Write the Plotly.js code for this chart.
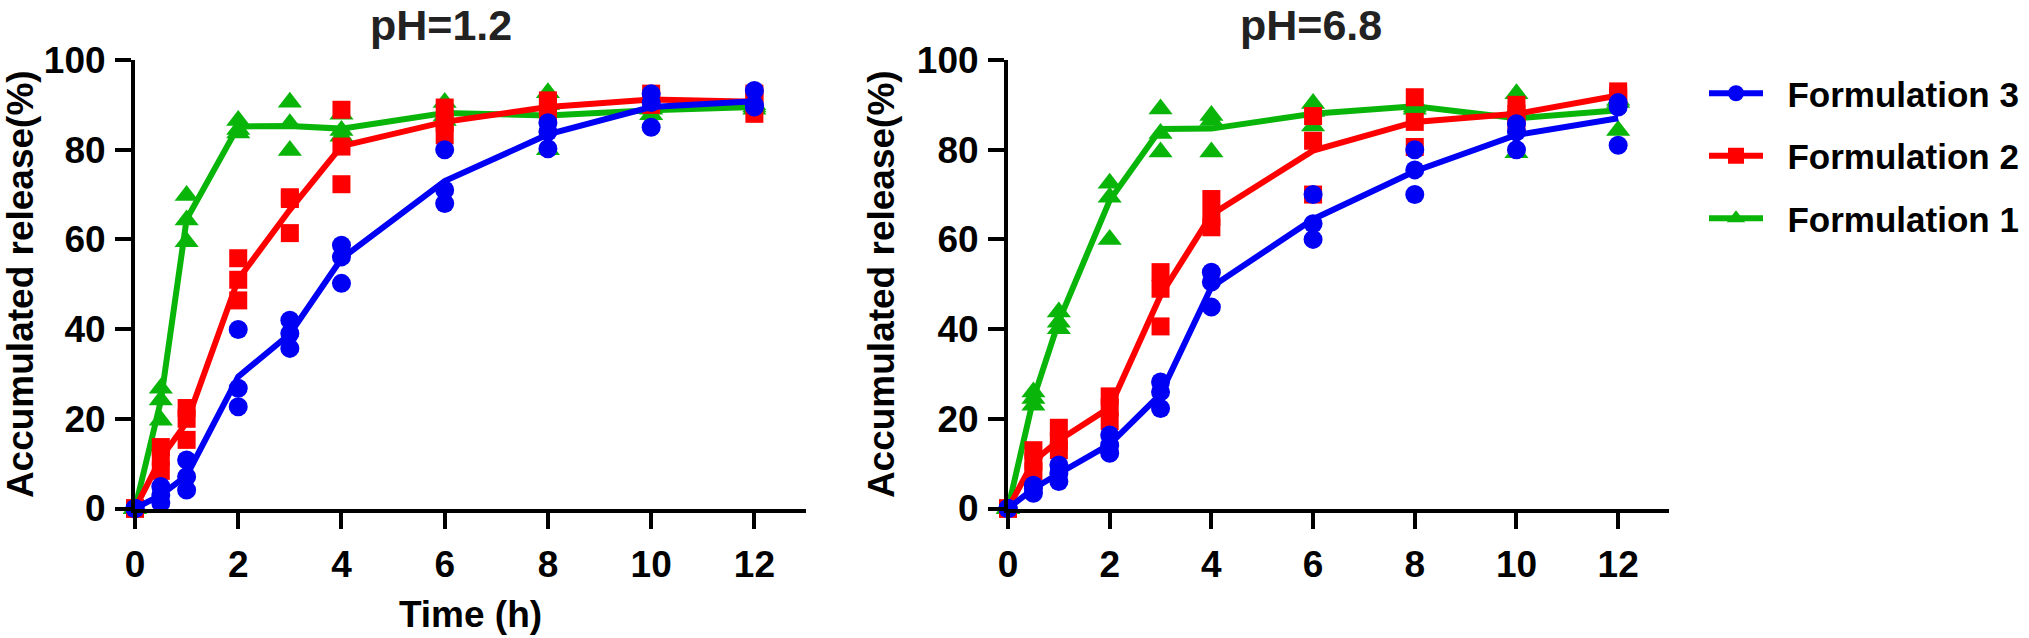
<!DOCTYPE html>
<html>
<head>
<meta charset="utf-8">
<script src="https://cdn.plot.ly/plotly-3.0.1.min.js"></script>
<style>
  html, body { margin: 0; padding: 0; background: #fff; }
  #plot { width: 2029px; height: 638px; }
</style>
</head>
<body>
<div id="plot"></div>
<script>
// Time points (h)
var time = [0, 0.5, 1, 2, 3, 4, 6, 8, 10, 12];
var xTicks = [0, 2, 4, 6, 8, 10, 12];
var yTicks = [0, 20, 40, 60, 80, 100];

// pH=1.2, three replicates + mean line for each formulation
var f3_ph12_r1 = [0, 4.9, 10.8, 39.9, 42, 58.7, 80, 86, 92.5, 93.2];
var f3_ph12_r2 = [0, 3, 7.1, 26.8, 39, 56.1, 71, 84, 90.5, 90];
var f3_ph12_r3 = [0, 1.2, 4.1, 22.7, 35.7, 50.2, 68, 80.2, 85, 89.5];
var f3_ph12_mean = [0, 3, 7.3, 29.4, 38.9, 55.7, 73, 83.4, 89.5, 90.8];

var f2_ph12_r1 = [0, 13.7, 22.4, 55.8, 69.4, 88.9, 89.4, 91, 92.5, 92.5];
var f2_ph12_r2 = [0, 11.5, 20, 51, 69, 80.7, 86, 89.5, 91, 91.5];
var f2_ph12_r3 = [0, 8.4, 15.3, 46.4, 61.4, 72.3, 83.2, 88, 90, 88];
var f2_ph12_mean = [0, 11.2, 19.2, 51.1, 66.6, 80.8, 86.2, 89.5, 91.2, 90.7];

var f1_ph12_r1 = [0, 26.8, 69.8, 86.5, 90.6, 87.9, 90.5, 92.7, 89.5, 90];
var f1_ph12_r2 = [0, 24.2, 64.3, 84.5, 85.8, 84.3, 87.5, 90, 89, 89.5];
var f1_ph12_r3 = [0, 19.7, 59.5, 83.7, 79.8, 83, 86.5, 80, 87.8, 89];
var f1_ph12_mean = [0, 24, 64.5, 85.2, 85.3, 84.7, 88.2, 87.6, 88.8, 89.5];

// pH=6.8
var f3_ph68_r1 = [0, 5.2, 9.7, 16.4, 28.2, 52.7, 70, 80, 85.8, 90.5];
var f3_ph68_r2 = [0, 4.5, 7.8, 14.1, 26, 50.5, 63.5, 75.5, 84, 89.5];
var f3_ph68_r3 = [0, 3.4, 6, 12.3, 22.3, 44.9, 60, 70, 80, 81];
var f3_ph68_mean = [0, 4.4, 7.8, 14.3, 25.5, 49.4, 64.5, 75.2, 83.3, 87];

var f2_ph68_r1 = [0, 13, 18, 25, 52.7, 69, 87.5, 91.7, 90, 93];
var f2_ph68_r2 = [0, 10.5, 15, 22.5, 49, 65, 82, 86.2, 88, 92];
var f2_ph68_r3 = [0, 8.3, 13, 19.5, 40.6, 62.7, 70, 80.6, 86, 91.3];
var f2_ph68_mean = [0, 10.5, 15.2, 22.5, 47.5, 65.5, 79.8, 86.2, 88, 92.1];

var f1_ph68_r1 = [0, 26, 43.8, 72.5, 89.1, 87.6, 90.3, 90.5, 92.5, 91];
var f1_ph68_r2 = [0, 24.5, 41.5, 69.4, 83.6, 86.5, 88.5, 89.5, 89, 90.5];
var f1_ph68_r3 = [0, 23, 40.1, 60, 79.5, 79.5, 85.3, 89, 79.3, 84.3];
var f1_ph68_mean = [0, 24.5, 41.8, 68.7, 84.6, 84.7, 88, 89.7, 87, 88.8];

var names = ['Formulation 1', 'Formulation 2', 'Formulation 3'];
var colors = ['#0ab50a', '#ff0000', '#0000f5'];
var symbols = ['triangle-up', 'square', 'circle'];
var markerSizes = [21, 18, 19];

var W = 2029, H = 638;
var FONT = 'Liberation Sans, Arial, sans-serif';

function px(x) { return x / W; }
function py(y) { return 1 - y / H; }

// line through the means + replicate points, per formulation
function series(i, reps, mean, xa, ya) {
    var out = [];
    out.push({
        x: time, y: mean, xaxis: xa, yaxis: ya,
        type: 'scatter', mode: 'lines', showlegend: false, cliponaxis: false,
        line: { color: colors[i], width: 6 }, hoverinfo: 'skip'
    });
    var xs = [], ys = [];
    reps.forEach(function (r) {
        for (var k = 0; k < time.length; k++) { xs.push(time[k]); ys.push(r[k]); }
    });
    out.push({
        x: xs, y: ys, xaxis: xa, yaxis: ya,
        type: 'scatter', mode: 'markers', showlegend: false, cliponaxis: false,
        marker: { color: colors[i], symbol: symbols[i], size: markerSizes[i] }
    });
    return out;
}

var traces = [];
traces = traces.concat(series(0, [f1_ph12_r1, f1_ph12_r2, f1_ph12_r3], f1_ph12_mean, 'x', 'y'));
traces = traces.concat(series(1, [f2_ph12_r1, f2_ph12_r2, f2_ph12_r3], f2_ph12_mean, 'x', 'y'));
traces = traces.concat(series(2, [f3_ph12_r1, f3_ph12_r2, f3_ph12_r3], f3_ph12_mean, 'x', 'y'));
traces = traces.concat(series(0, [f1_ph68_r1, f1_ph68_r2, f1_ph68_r3], f1_ph68_mean, 'x2', 'y2'));
traces = traces.concat(series(1, [f2_ph68_r1, f2_ph68_r2, f2_ph68_r3], f2_ph68_mean, 'x2', 'y2'));
traces = traces.concat(series(2, [f3_ph68_r1, f3_ph68_r2, f3_ph68_r3], f3_ph68_mean, 'x2', 'y2'));

// legend entries (F3 on top); the nbsp's give the wider gap after the symbol
for (var i = 2; i >= 0; i--) {
    traces.push({
        x: [null], y: [null], xaxis: 'x2', yaxis: 'y2',
        type: 'scatter', mode: 'lines+markers', name: '\u00a0\u00a0' + names[i],
        legendgroup: names[i], legendrank: 3 - i,
        line: { color: colors[i], width: 6 },
        marker: { color: colors[i], symbol: symbols[i], size: 16 }
    });
}

var tickFont = { family: FONT, size: 37, weight: 'bold', color: '#000' };

function xAxis(domain, anchor, title) {
    var ax = {
        domain: domain, anchor: anchor, range: [0, 13],
        tickvals: xTicks, ticks: 'outside', ticklen: 16, tickwidth: 4, tickcolor: '#000',
        showline: true, linewidth: 4, linecolor: '#000',
        showgrid: false, zeroline: false, tickfont: tickFont, ticklabelstandoff: 4
    };
    if (title) ax.title = { text: title, font: tickFont, standoff: 18 };
    return ax;
}

function yAxis(domain, anchor) {
    return {
        domain: domain, anchor: anchor, range: [0, 100],
        tickvals: yTicks, ticks: 'outside', ticklen: 16, tickwidth: 4, tickcolor: '#000',
        showline: true, linewidth: 4, linecolor: '#000',
        showgrid: false, zeroline: false, tickfont: tickFont, ticklabelstandoff: 2,
        title: { text: 'Accumulated release(%)', font: tickFont, standoff: 12 }
    };
}

var yDomain = [py(508.5), py(60)];

var layout = {
    width: W, height: H,
    margin: { l: 0, r: 0, t: 0, b: 0 },
    paper_bgcolor: '#fff', plot_bgcolor: '#fff',
    showlegend: true,
    xaxis: xAxis([px(135), px(806)], 'y', 'Time (h)'),
    yaxis: yAxis(yDomain, 'x'),
    xaxis2: xAxis([px(1008), px(1669)], 'y2', null),
    yaxis2: yAxis(yDomain, 'x2'),
    legend: {
        x: px(1704), y: py(64), xanchor: 'left', yanchor: 'top',
        font: { family: FONT, size: 35, weight: 'bold', color: '#000' },
        itemwidth: 54, tracegroupgap: 14, bgcolor: 'rgba(0,0,0,0)'
    },
    annotations: [
        { text: 'pH=1.2', x: px(441), y: py(25), xref: 'paper', yref: 'paper',
          xanchor: 'center', yanchor: 'middle', showarrow: false,
          font: { family: FONT, size: 43, weight: 'bold', color: '#222' } },
        { text: 'pH=6.8', x: px(1311), y: py(25), xref: 'paper', yref: 'paper',
          xanchor: 'center', yanchor: 'middle', showarrow: false,
          font: { family: FONT, size: 43, weight: 'bold', color: '#222' } }
    ]
};

Plotly.newPlot('plot', traces, layout, { displayModeBar: false, staticPlot: true });
</script>
</body>
</html>
